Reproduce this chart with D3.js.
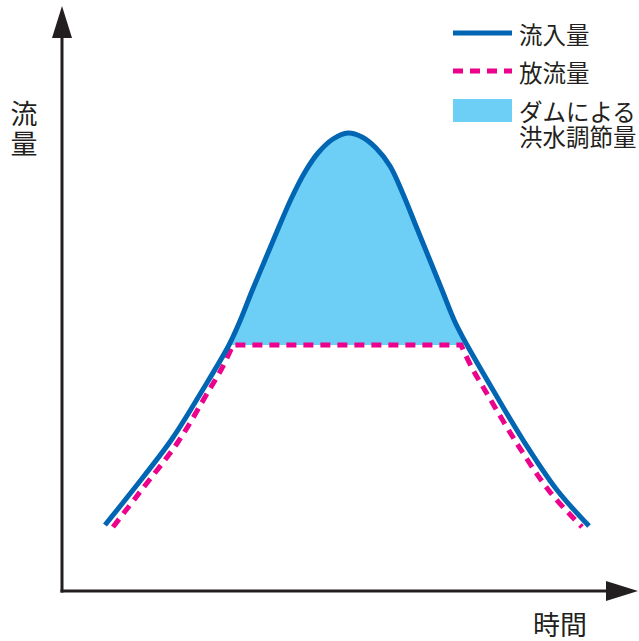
<!DOCTYPE html>
<html>
<head>
<meta charset="utf-8">
<script src="https://cdn.jsdelivr.net/npm/d3@7"></script>
<style>
  body { margin: 0; background: #fff; }
  text { font-family: "Noto Sans CJK JP", sans-serif; fill: #231f20; }
</style>
</head>
<body>
<div id="chart"></div>
<script>
// chart size, same as the window
const width = 639, height = 641;

// inflow hydrograph (time, flow)
const inflowTime = [8.6, 14.2, 22.0, 28.0, 33.4, 35.6, 38.0, 40.6, 43.2, 46.0, 48.6, 51.2, 54.2, 57.2,
                    60.0, 62.8, 65.6, 68.2, 70.8, 73.4, 76.0, 78.6, 81.0, 86.2, 92.2, 99.0, 105.4];
const inflowFlow = [13.2, 20.2, 30.4, 40.0, 49.2, 54.0, 60.0, 66.2, 72.4, 78.8, 83.8, 87.6, 90.4, 91.6,
                    90.8, 88.6, 85.0, 79.4, 73.0, 66.6, 60.2, 53.8, 49.2, 40.2, 30.2, 20.2, 13.0];

// release: rising part, cap level, falling part
const releaseRiseTime = [10.2, 15.6, 23.2, 29.2, 32.0, 34.2];
const releaseRiseFlow = [12.8, 19.8, 29.8, 39.8, 44.6, 49.2];
const releaseFallTime = [79.8, 82.0, 84.8, 90.8, 97.6, 104.0];
const releaseFallFlow = [49.2, 44.6, 39.8, 29.8, 19.8, 12.8];
const releaseCap = 49.2;

const legendLabels = [["流入量"], ["放流量"], ["ダムによる", "洪水調節量"]];
const axisLabels = {y: ["流", "量"], x: "時間"};

const inflow = inflowTime.map((t, i) => ({t: t, f: inflowFlow[i]}));
const rise = releaseRiseTime.map((t, i) => ({t: t, f: releaseRiseFlow[i]}));
const fall = releaseFallTime.map((t, i) => ({t: t, f: releaseFallFlow[i]}));

const blue = "#0066b3", pink = "#ec008c", fillBlue = "#6dcff6", ink = "#231f20";

const svg = d3.select("#chart")
  .append("svg")
  .attr("width", width)
  .attr("height", height);

const xScale = d3.scaleLinear().domain([0, 110]).range([62, 612]);
const yScale = d3.scaleLinear().domain([0, 110]).range([591, 41]);

// arrow heads
const defs = svg.append("defs");
defs.append("marker")
  .attr("id", "arrow")
  .attr("viewBox", "0 0 32 20")
  .attr("refX", 0).attr("refY", 10)
  .attr("markerWidth", 32).attr("markerHeight", 20)
  .attr("markerUnits", "userSpaceOnUse")
  .attr("orient", "auto")
  .append("path")
  .attr("d", "M0,0 L32,10 L0,20 Z")
  .attr("fill", ink);

// clip: keep only the part above the cap level
defs.append("clipPath").attr("id", "aboveCap")
  .append("rect")
  .attr("x", 0).attr("y", 0)
  .attr("width", width).attr("height", Math.floor(yScale(releaseCap)));

// fill between inflow and cap
const area = d3.area()
  .x(d => xScale(d.t))
  .y0(yScale(releaseCap))
  .y1(d => yScale(d.f))
  .curve(d3.curveCatmullRom);

svg.append("path")
  .datum(inflow)
  .attr("d", area)
  .attr("fill", fillBlue)
  .attr("clip-path", "url(#aboveCap)");

// axes
svg.append("line")
  .attr("x1", xScale(0)).attr("y1", yScale(0) + 1.5)
  .attr("x2", xScale(0)).attr("y2", 38)
  .attr("stroke", ink).attr("stroke-width", 3)
  .attr("marker-end", "url(#arrow)");
svg.append("line")
  .attr("x1", xScale(0) - 1.5).attr("y1", yScale(0))
  .attr("x2", 606).attr("y2", yScale(0))
  .attr("stroke", ink).attr("stroke-width", 3)
  .attr("marker-end", "url(#arrow)");

// release (dashed)
const line = d3.line()
  .x(d => xScale(d.t))
  .y(d => yScale(d.f))
  .curve(d3.curveCatmullRom);

const releasePath = line(rise) + line(fall).replace(/^M/, "L");

svg.append("path")
  .attr("d", releasePath)
  .attr("fill", "none")
  .attr("stroke", pink)
  .attr("stroke-width", 5)
  .attr("stroke-dasharray", "10,7");

// inflow
svg.append("path")
  .datum(inflow)
  .attr("d", line)
  .attr("fill", "none")
  .attr("stroke", blue)
  .attr("stroke-width", 5);

// axis labels
svg.selectAll(".ylab")
  .data(axisLabels.y)
  .join("text")
  .attr("x", 24)
  .attr("y", (d, i) => 112 + i * 30)
  .attr("text-anchor", "middle")
  .attr("dominant-baseline", "central")
  .attr("font-size", 27)
  .text(d => d);

svg.append("text")
  .attr("x", 560).attr("y", 623)
  .attr("text-anchor", "middle")
  .attr("dominant-baseline", "central")
  .attr("font-size", 27)
  .text(axisLabels.x);

// legend
const lg = svg.append("g");
lg.append("line")
  .attr("x1", 453).attr("x2", 512).attr("y1", 33).attr("y2", 33)
  .attr("stroke", blue).attr("stroke-width", 5);
lg.append("line")
  .attr("x1", 453).attr("x2", 512).attr("y1", 71).attr("y2", 71)
  .attr("stroke", pink).attr("stroke-width", 5)
  .attr("stroke-dasharray", "10,7");
lg.append("rect")
  .attr("x", 453).attr("y", 99).attr("width", 59).attr("height", 23)
  .attr("fill", fillBlue);

const rowY = [34, 71.5, 111];
legendLabels.forEach((lines, i) => {
  lines.forEach((s, j) => {
    lg.append("text")
      .attr("x", 519)
      .attr("y", rowY[i] + j * 25)
      .attr("dominant-baseline", "central")
      .attr("font-size", 23.5)
      .text(s);
  });
});
</script>
</body>
</html>
